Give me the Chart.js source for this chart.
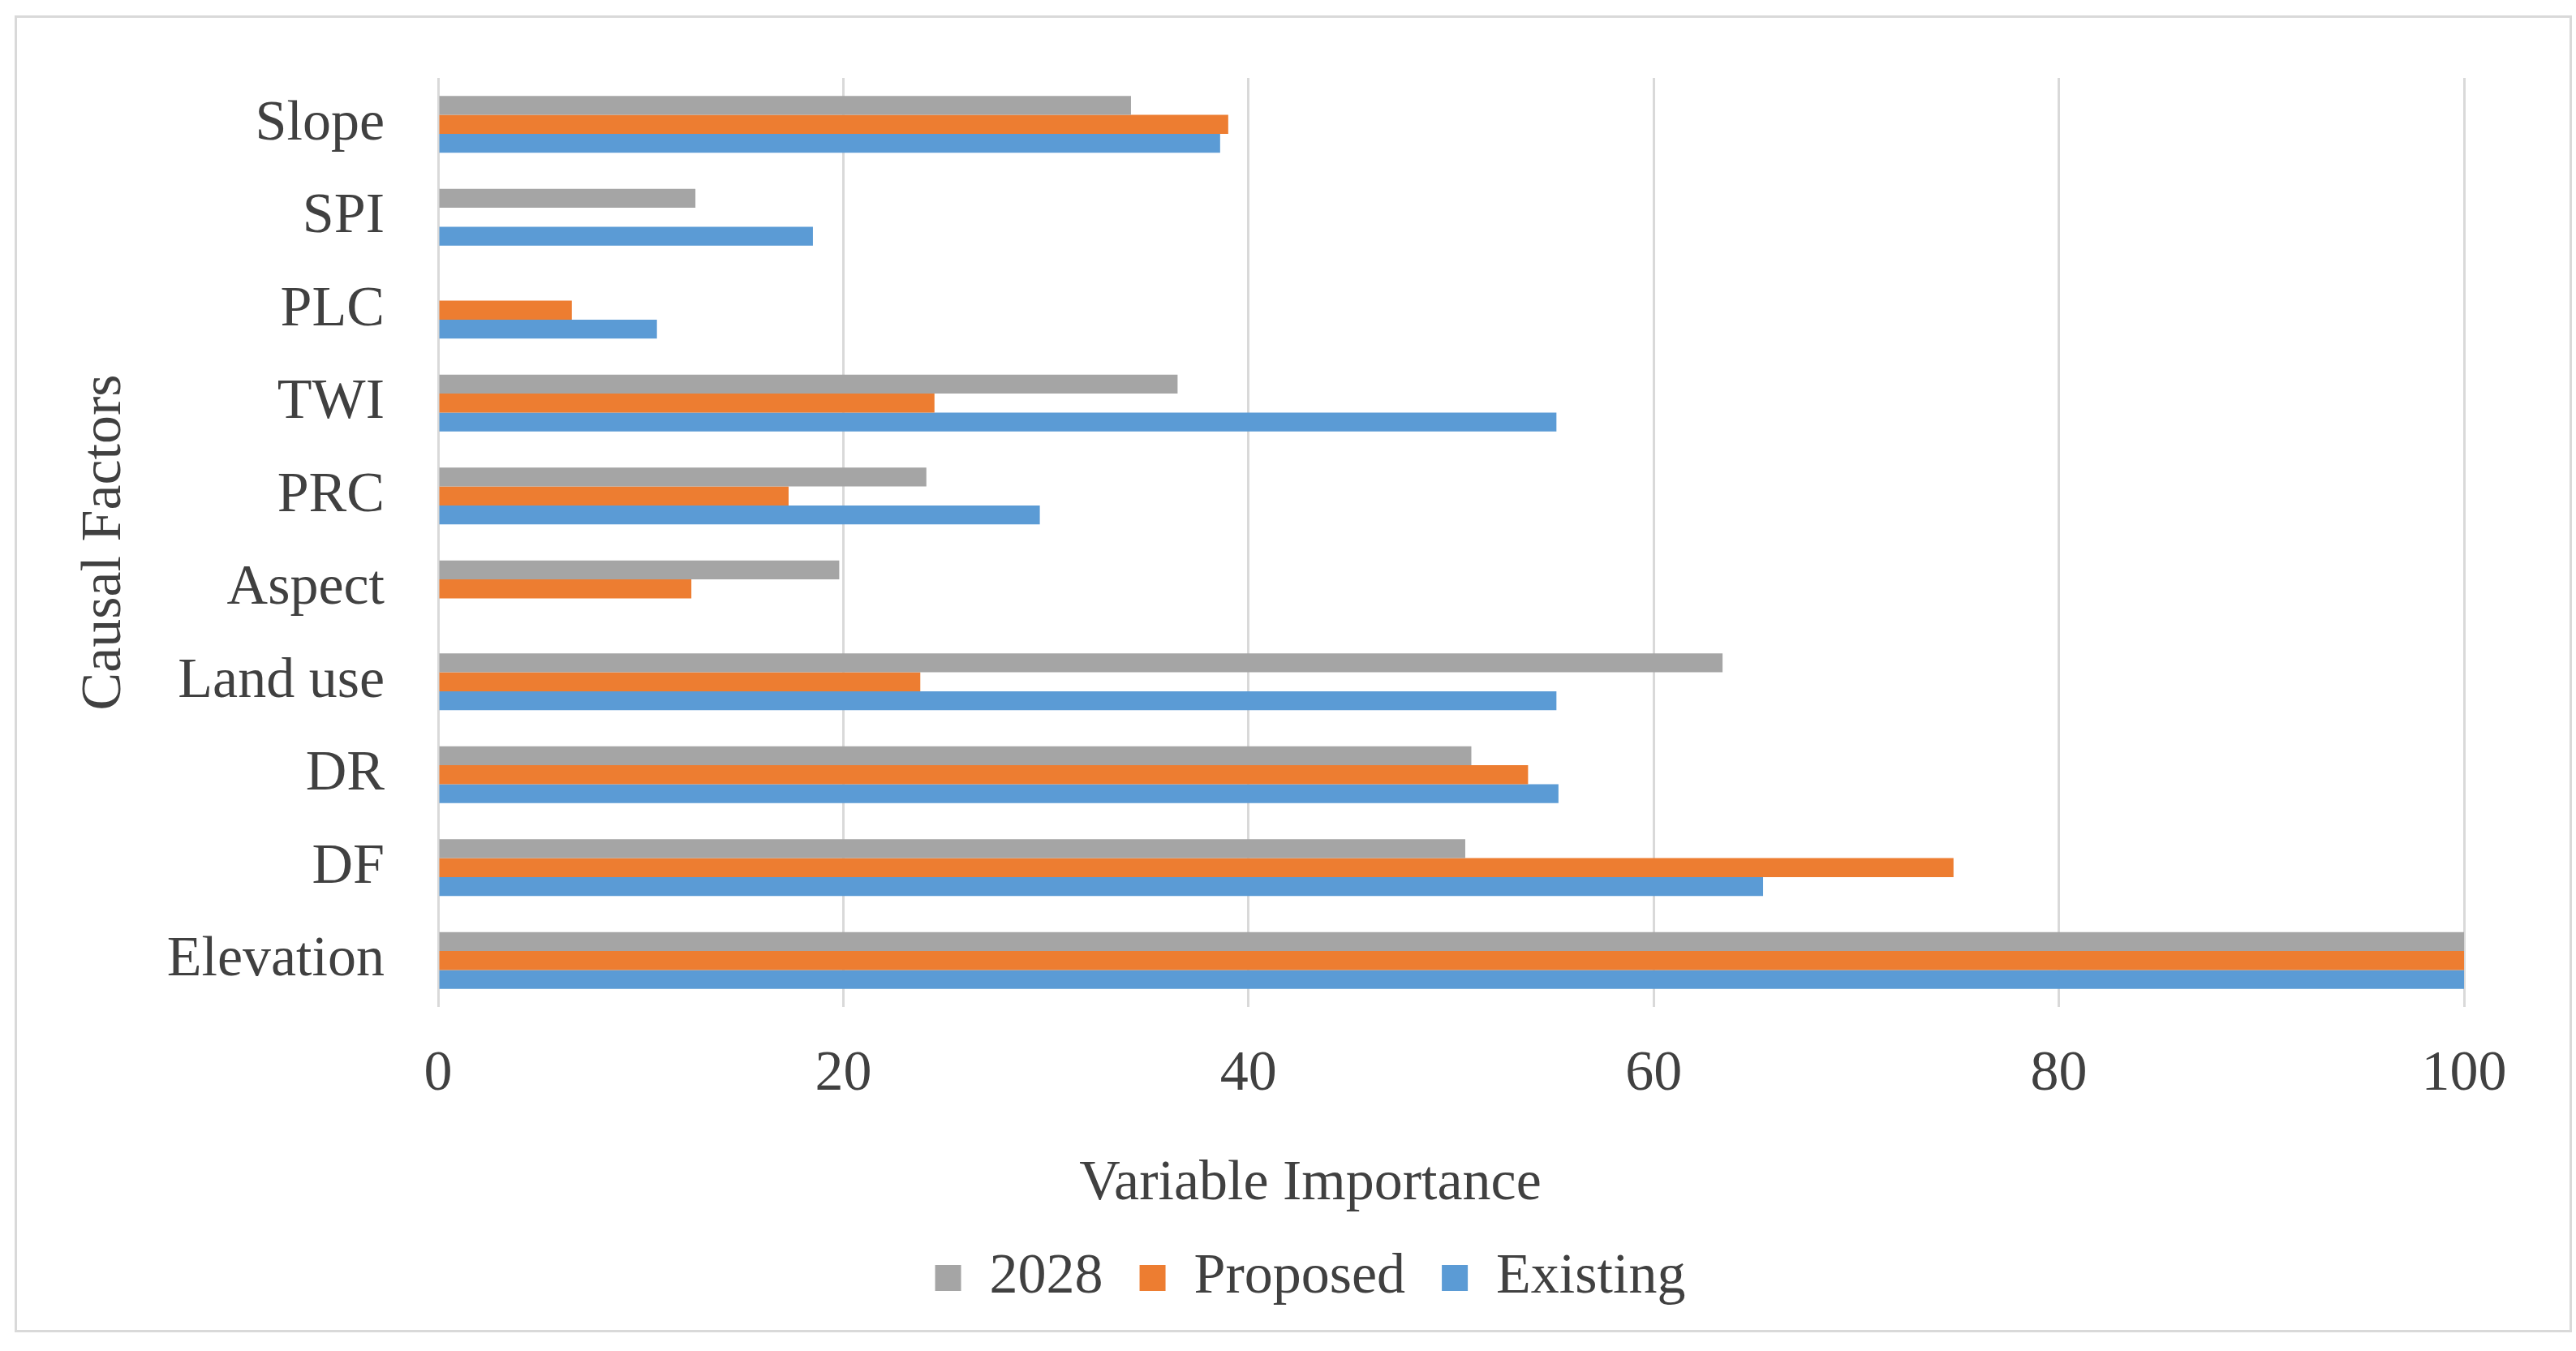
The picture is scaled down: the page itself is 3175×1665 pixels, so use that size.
<!DOCTYPE html>
<html>
<head>
<meta charset="utf-8">
<script src="https://cdn.jsdelivr.net/npm/chart.js@4.4.1/dist/chart.umd.min.js"></script>
<style>
    html, body { margin: 0; padding: 0; background: #ffffff; }
    #frame {
        position: absolute;
        left: 18px;
        top: 19px;
        width: 3146px;
        height: 1617px;
        border: 3px solid #d9d9d9;
    }
    #frame canvas { display: block; }
</style>
</head>
<body>
<div id="frame"><canvas id="chart__area"></canvas></div>
<script>
// categories top to bottom
const factors = ['Slope', 'SPI', 'PLC', 'TWI', 'PRC', 'Aspect', 'Land use', 'DR', 'DF', 'Elevation'];

const values2028 = [34.2, 12.7, null, 36.5, 24.1, 19.8, 63.4, 51.0, 50.7, 100];
const valuesProposed = [39.0, null, 6.6, 24.5, 17.3, 12.5, 23.8, 53.8, 74.8, 100];
const valuesExisting = [38.6, 18.5, 10.8, 55.2, 29.7, null, 55.2, 55.3, 65.4, 100];

const xTicks = [0, 20, 40, 60, 80, 100];

const textColor = '#404040';
const serif = "'Liberation Serif', 'Times New Roman', serif";

const ctx = document.getElementById('chart__area').getContext('2d');
const myChart = new Chart(ctx, {
    type: 'bar',
    data: {
        labels: factors,
        datasets: [{
            label: '2028',
            data: values2028,
            backgroundColor: '#a5a5a5',
        }, {
            label: 'Proposed',
            data: valuesProposed,
            backgroundColor: '#ed7d31',
        }, {
            label: 'Existing',
            data: valuesExisting,
            backgroundColor: '#5b9bd5',
        }]
    },
    options: {
        indexAxis: 'y',
        responsive: true,
        maintainAspectRatio: false,
        devicePixelRatio: 1,
        animation: false,
        datasets: {
            bar: {
                barPercentage: 1,
                categoryPercentage: 0.61,
                borderWidth: 0
            }
        },
        layout: {
            padding: { top: 74, right: 0, bottom: 19, left: 42 }
        },
        scales: {
            x: {
                min: xTicks[0],
                max: xTicks[xTicks.length - 1],
                afterBuildTicks: (scale) => {
                    scale.ticks = xTicks.map(v => ({ value: v }));
                },
                afterFit: (scale) => {
                    scale.height = 126;
                    scale.paddingRight = 130;
                },
                grid: {
                    color: '#d9d9d9',
                    lineWidth: 3,
                    drawTicks: false
                },
                border: { display: false },
                ticks: {
                    color: textColor,
                    padding: 42,
                    font: { family: serif, size: 70 }
                }
            },
            y: {
                grid: { display: false },
                border: { display: false },
                afterFit: (scale) => {
                    scale.width = 477;
                    scale.paddingTop = 0;
                    scale.paddingBottom = 0;
                },
                ticks: {
                    color: textColor,
                    padding: 58,
                    font: { family: serif, size: 70 }
                },
                title: {
                    display: true,
                    text: 'Causal Factors',
                    color: textColor,
                    padding: { top: 25, bottom: 0 },
                    font: { family: serif, size: 70 }
                }
            }
        },
        plugins: {
            title: {
                display: true,
                position: 'bottom',
                text: 'Variable Importance',
                color: textColor,
                padding: { top: 51, bottom: -7 },
                font: { family: serif, size: 70, weight: 'normal' }
            },
            legend: {
                display: true,
                position: 'bottom',
                weight: 3000,
                labels: {
                    boxWidth: 32,
                    boxHeight: 32,
                    padding: 45,
                    color: textColor,
                    font: { family: serif, size: 70 }
                }
            },
            tooltip: {
                enabled: false
            }
        }
    }
});
</script>
</body>
</html>
